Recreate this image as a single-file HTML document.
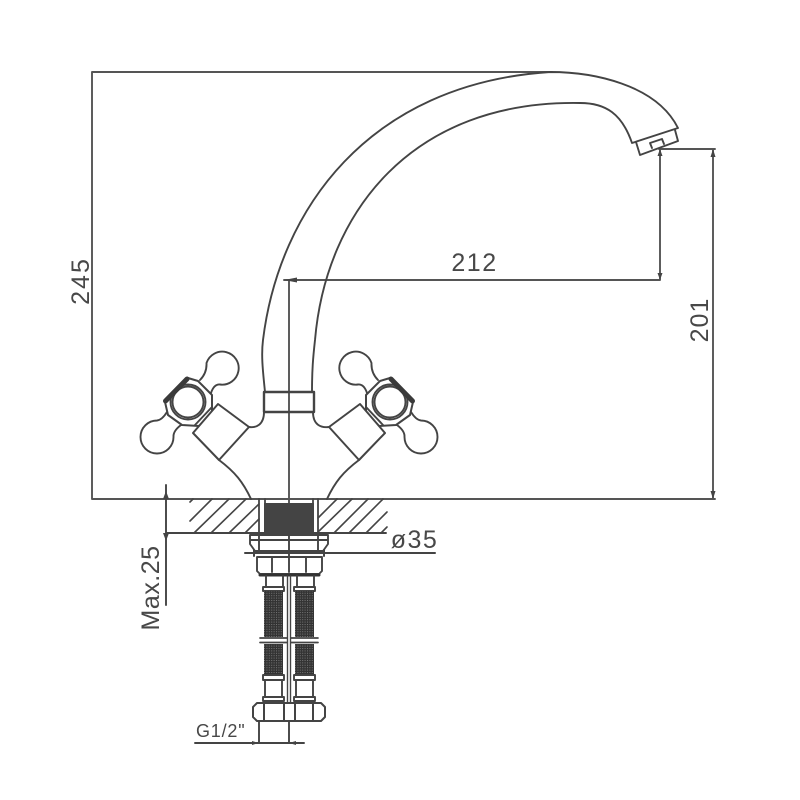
<!DOCTYPE html>
<html><head><meta charset="utf-8"><style>
html,body{margin:0;padding:0;background:#fff}
svg{display:block}
text{font-family:"Liberation Sans",sans-serif;fill:#484848}
</style></head><body>
<svg width="800" height="800" viewBox="0 0 800 800" xmlns="http://www.w3.org/2000/svg">
<defs>
<pattern id="b" width="2.4" height="2.4" patternUnits="userSpaceOnUse"><rect width="2.4" height="2.4" fill="#333"/><rect width="1" height="1" fill="#777"/></pattern>
<g id="h">
<path d="M200,380 Q207,373 206.500,363 A16.500,16.500 0 1 1 220,384.500 Q214,384 211,393"/>
<path d="M167,412 Q162,420 157,420.500 A16.500,16.500 0 1 0 173.500,437 Q173,431 181,425"/>
<path d="M188,378 L198,381 L212,395 L212,412 L199,426 L182,425 L168,415 L165,402 Z" fill="#fff" stroke-width="2"/>
<circle cx="188" cy="402" r="17.500" fill="#fff"/>
<circle cx="188" cy="402" r="15.500"/>
<path d="M165.500,401 L187,379" stroke-width="5" stroke="#3a3a3a"/>
<path d="M195,425 L212,407 M198,429 L216,410"/>
<path d="M218,404 L249,427 L219,460 L193,433 Z" fill="#fff" stroke-width="2"/>
</g>
<g id="t">
<path d="M266,576 V587 M283,576 V587 M263,587 H284 V591 H263 Z"/>
<rect x="264" y="591" width="19" height="46" fill="url(#b)" stroke="none"/>
<path d="M260,638 H287 M260,642.500 H287" stroke-width="1.700"/>
<rect x="264" y="644" width="19" height="31" fill="url(#b)" stroke="none"/>
<path d="M263,675 H284 V680 H263 Z M265,680 V697 M282,680 V697 M263,697 H284 V701 H263 Z"/>
</g>
</defs>
<g fill="none" stroke="#444" stroke-width="1.900" stroke-linejoin="round" stroke-linecap="round">
<!-- dimensions -->
<path d="M92,72 H552 M92,72 V499 M92,499 H715 M713,149 V499 M659,149 H715 M660,149 V280 M284,280 H660 M289,280 V515" stroke="#555"/>
<!-- spout -->
<path d="M265,392 C263,372 261,356 263,340 C279,210 368,84 550,72 C592,72 656,84 678,128 L632,143 C622,114 606,103 580,103 C412,100 326,212 315,340 C313,358 312,370 312,392"/>
<path d="M636,142 L640,155 L678,141 L675,130"/>
<path d="M652,148 L650,143 L662,139 L664,144"/>
<!-- collar and body -->
<path d="M264,392 H314 M264,412 H314 M264,392 V412 M314,392 V412" stroke-width="2.400"/>
<path d="M264,412 C264,425 256,428 249,427 M313,412 C313,425 321,428 329,427"/>
<path d="M219,460 C235,472 243,482 251,499 M359,460 C343,472 335,482 327,499"/>
<use href="#h"/>
<use href="#h" transform="translate(578,0) scale(-1,1)"/>
<!-- hatch -->
<path d="M193,499 L190,502 M212,499 L190,521 M229,499 L194,533 M246,499 L211,533 M259,504 L229,533 M259,519 L245,533 M337,499 L318,518 M352,499 L318,532 M368,499 L334,533 M383,499 L349,533 M387,512 L366,533 M387,527 L381,533" stroke-width="1.600"/>
<path d="M259,499 V533 M265,499 V533 M318,499 V533 M313,499 V533" stroke-width="1.800"/>
<rect x="264" y="503" width="50" height="30" fill="#444" stroke="none"/>
<!-- Max 25 -->
<path d="M166,485 V605 M166,533 H386"/>
<!-- fittings -->
<path d="M250,535 H328 V544 L323,551 H255 L250,544 Z M250,540 H328 M259,535 V553 M318,535 V553 M289,533 V575" fill="#fff"/>
<path d="M245,553 H435 M254,550 V556 M324,550 V556" stroke-width="2"/>
<path d="M257,557 H322 V571 L319,574 H260 L257,571 Z M272,557 V572 M289,557 V572 M306,557 V572" fill="#fff"/>
<path d="M260,575 H319" stroke-width="3" stroke="#333"/>
<use href="#t"/>
<use href="#t" transform="translate(31,0)"/>
<path d="M287.500,576 V703 M290.500,576 V703" stroke-width="1.400"/>
<path d="M257,703 H321 L325,707 V717 L321,721 H257 L253,717 V707 Z M264,703 V721 M284,703 V721 M295,703 V721 M313,703 V721" stroke-width="2"/>
<path d="M259,721 V743 M289,721 V743 M195,743 H304"/>
</g>
<!-- arrows -->
<g fill="#444">
<path d="M166,491 L163,499 H169 Z M166,541 L163,533 H169 Z M713,149 L710.500,157 H715.500 Z M713,499 L710.500,491 H715.500 Z"/>
<path d="M660,280 L657.500,273 H662.500 Z M660,149 L657.500,156 H662.500 Z M284,280 L297,277.500 V282.500 Z"/>
<path d="M259,743 L252,741 V745 Z M289,743 L296,741 V745 Z"/>
</g>
<text x="474.500" y="271" font-size="25" text-anchor="middle" letter-spacing="1.500">212</text>
<text x="414.500" y="548" font-size="25" text-anchor="middle" letter-spacing="1.500">ø35</text>
<text x="196" y="737" font-size="18" letter-spacing="0.800">G1/2"</text>
<text transform="translate(89,281) rotate(-90)" font-size="25" text-anchor="middle" letter-spacing="2">245</text>
<text transform="translate(708,320) rotate(-90)" font-size="25" text-anchor="middle" letter-spacing="1">201</text>
<text transform="translate(159,588) rotate(-90)" font-size="25" text-anchor="middle" letter-spacing="0.500">Max.25</text>
</svg>
</body></html>
